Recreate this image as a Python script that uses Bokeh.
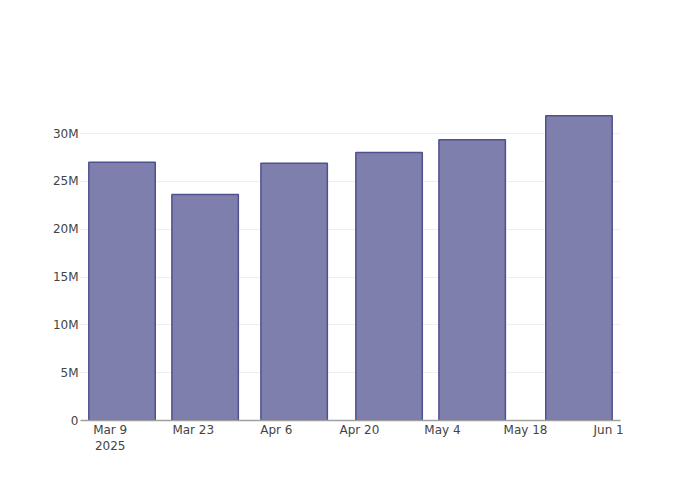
import numpy as np
from bokeh.plotting import figure
from bokeh.models import FixedTicker, Range1d
from bokeh.embed import file_html
from bokeh.resources import INLINE

# ---- data ----
dates = ["2025-03-11", "2025-03-25", "2025-04-09", "2025-04-25", "2025-05-09", "2025-05-27"]
values = [27.0e6, 23.64e6, 26.9e6, 28.03e6, 29.36e6, 31.87e6]
x_tick_dates = ["2025-03-09", "2025-03-23", "2025-04-06", "2025-04-20", "2025-05-04", "2025-05-18", "2025-06-01"]
x_tick_labels = ["Mar 9\n2025", "Mar 23", "Apr 6", "Apr 20", "May 4", "May 18", "Jun 1"]
y_ticks = [0, 5e6, 10e6, 15e6, 20e6, 25e6, 30e6]
y_tick_labels = ["0", "5M", "10M", "15M", "20M", "25M", "30M"]

x_ms = np.array(dates, dtype="datetime64[ms]").astype("int64").astype(float)
xt_ms = np.array(x_tick_dates, dtype="datetime64[ms]").astype("int64").astype(float)
gap = np.min(np.diff(x_ms))
bar_w = 0.8 * gap

FONT = "DejaVu Sans"
TXT = "#444444"

p = figure(width=684, height=484, output_backend="svg", toolbar_location=None,
           x_axis_type="datetime",
           x_range=Range1d(x_ms[0] - gap / 2, x_ms[-1] + gap / 2),
           y_range=Range1d(0, max(values) * 1.05),
           min_border_left=80, min_border_right=64, min_border_top=100, min_border_bottom=64)
p.outline_line_color = None
p.background_fill_color = "white"
p.border_fill_color = "white"

p.vbar(x=x_ms, top=values, width=bar_w, bottom=0,
       fill_color="#7f7fae", line_color="#50508f", line_width=1.5)

# x axis
xa = p.xaxis[0]
xa.ticker = FixedTicker(ticks=list(xt_ms))
xa.major_label_overrides = {float(t): l for t, l in zip(xt_ms, x_tick_labels)}
xa.major_tick_out = 0
xa.major_tick_in = 0
xa.minor_tick_out = 0
xa.minor_tick_in = 0
xa.major_label_standoff = 2
xa.axis_line_color = "#a0a0a0"
xa.axis_line_width = 1.5
xa.major_label_text_font = FONT
xa.major_label_text_font_size = "12px"
xa.major_label_text_color = TXT

# y axis
ya = p.yaxis[0]
ya.ticker = FixedTicker(ticks=y_ticks)
ya.major_label_overrides = {float(t): l for t, l in zip(y_ticks, y_tick_labels)}
ya.major_tick_out = 0
ya.major_tick_in = 0
ya.minor_tick_out = 0
ya.minor_tick_in = 0
ya.major_label_standoff = 2
ya.axis_line_color = None
ya.major_label_text_font = FONT
ya.major_label_text_font_size = "12px"
ya.major_label_text_color = TXT

p.xgrid.grid_line_color = None
p.ygrid.grid_line_color = "#eeeeee"
p.ygrid.grid_line_width = 1

open("out.html", "w").write(file_html(p, INLINE))
